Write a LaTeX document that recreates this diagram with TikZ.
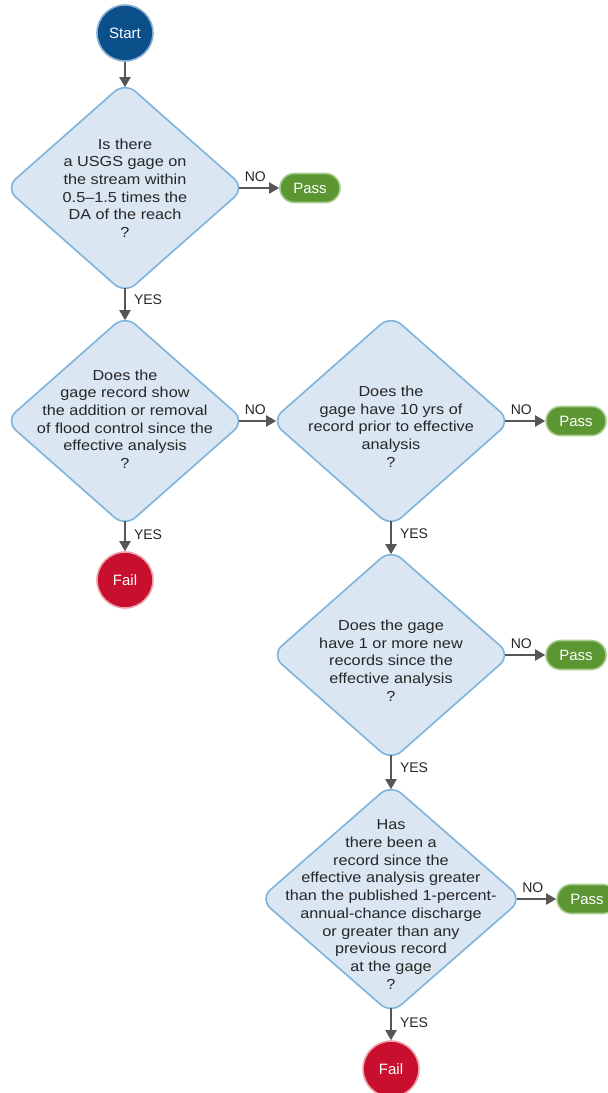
\documentclass[tikz,border=0pt]{standalone}
\usepackage{fontspec}
\setmainfont{Liberation Sans}
\newfontfamily\boxfont{Liberation Sans}[FakeStretch=1.12]
\usetikzlibrary{shapes.geometric,arrows.meta}

\definecolor{qfill}{HTML}{DAE6F2}
\definecolor{qline}{HTML}{7FB3DA}
\definecolor{startfill}{HTML}{0B4F8B}
\definecolor{startline}{HTML}{8EB1D3}
\definecolor{passfill}{HTML}{5B9632}
\definecolor{passline}{HTML}{A6CC8B}
\definecolor{failfill}{HTML}{C8102E}
\definecolor{failline}{HTML}{EBA4AC}
\definecolor{arrowgray}{HTML}{565656}
\definecolor{txt}{HTML}{262626}

\tikzset{
  question/.style={diamond, draw=qline, fill=qfill, line width=1.6pt,
    rounded corners=14pt, minimum width=240pt, minimum height=212pt, inner sep=0pt},
  bigquestion/.style={question, minimum width=263pt, minimum height=230pt},
  qtext/.style={align=center, text=txt, inner sep=0pt,
    font=\boxfont\fontsize{14.5}{17.7}\selectfont},
  terminal/.style={circle, minimum size=56pt, inner sep=0pt, line width=1.6pt,
    text=white, font=\fontsize{15}{15}\selectfont},
  startnode/.style={terminal, draw=startline, fill=startfill},
  failnode/.style={terminal, draw=failline, fill=failfill},
  passnode/.style={rectangle, rounded corners=14.5pt, minimum width=60pt,
    minimum height=29pt, inner sep=0pt, line width=1.6pt, draw=passline,
    fill=passfill, text=white, font=\fontsize{15}{15}\selectfont},
  conn/.style={draw=arrowgray, line width=2pt,
    -{Triangle[length=10pt,width=11pt]}},
  % the rounded tips of a question sit inside its sharp anchors
  fromq/.style={shorten <=-6.5pt},
  toq/.style={shorten >=-6pt},
  nolbl/.style={text=txt, inner sep=1pt, anchor=south west, pos=0,
    xshift=-3pt, yshift=4.5pt, font=\fontsize{14}{14}\selectfont},
  yeslbl/.style={text=txt, inner sep=1pt, anchor=west, midway,
    xshift=7pt, yshift=4.5pt, font=\fontsize{14}{14}\selectfont},
}

\begin{document}
\begin{tikzpicture}[x=1pt, y=-1pt]
\fill[white] (0,0) rectangle (608,1093);
\useasboundingbox (0,0) rectangle (608,1093);

% start
\node[startnode] (start) at (125,33) {Start};

% first question and its exit
\node[question] (q1) at (125,188) {};
\node[qtext] (q1t) at (q1.center) {Is there\\a USGS gage on\\the stream within\\0.5–1.5 times the\\DA of the reach\\?};
\node[passnode] (pass1) at (310,188) {Pass};

% flood control question
\node[question] (q2) at (125,421) {};
\node[qtext, yshift=2pt] (q2t) at (q2.center) {Does the\\gage record show\\the addition or removal\\of flood control since the\\effective analysis\\?};
\node[failnode] (fail1) at (125,580) {Fail};

% record length question
\node[question] (q3) at (391,421) {};
\node[qtext, yshift=-5.5pt] (q3t) at (q3.center) {Does the\\gage have 10 yrs of\\record prior to effective\\analysis\\?};
\node[passnode] (pass2) at (576,421) {Pass};

% new records question
\node[question] (q4) at (391,655) {};
\node[qtext, yshift=-5.5pt] (q4t) at (q4.center) {Does the gage\\have 1 or more new\\records since the\\effective analysis\\?};
\node[passnode] (pass3) at (576,655) {Pass};

% magnitude question
\node[bigquestion] (q5) at (391,899) {};
\node[qtext, yshift=-5.5pt] (q5t) at (q5.center) {Has\\there been a\\record since the\\effective analysis greater\\than the published 1-percent-\\annual-chance discharge\\or greater than any\\previous record\\at the gage\\?};
\node[passnode] (pass4) at (587,899) {Pass};
\node[failnode] (fail2) at (391,1069) {Fail};

% connectors
\draw[conn, toq] (start.south) -- (q1.north);
\draw[conn, fromq] (q1.east) -- node[nolbl]{NO} (pass1.west);
\draw[conn, fromq, toq] (q1.south) -- node[yeslbl]{YES} (q2.north);
\draw[conn, fromq, toq] (q2.east) -- node[nolbl]{NO} (q3.west);
\draw[conn, fromq] (q2.south) -- node[yeslbl]{YES} (fail1.north);
\draw[conn, fromq] (q3.east) -- node[nolbl]{NO} (pass2.west);
\draw[conn, fromq, toq] (q3.south) -- node[yeslbl]{YES} (q4.north);
\draw[conn, fromq] (q4.east) -- node[nolbl]{NO} (pass3.west);
\draw[conn, fromq, toq] (q4.south) -- node[yeslbl]{YES} (q5.north);
\draw[conn, fromq] (q5.east) -- node[nolbl]{NO} (pass4.west);
\draw[conn, fromq] (q5.south) -- node[yeslbl]{YES} (fail2.north);
\end{tikzpicture}
\end{document}
